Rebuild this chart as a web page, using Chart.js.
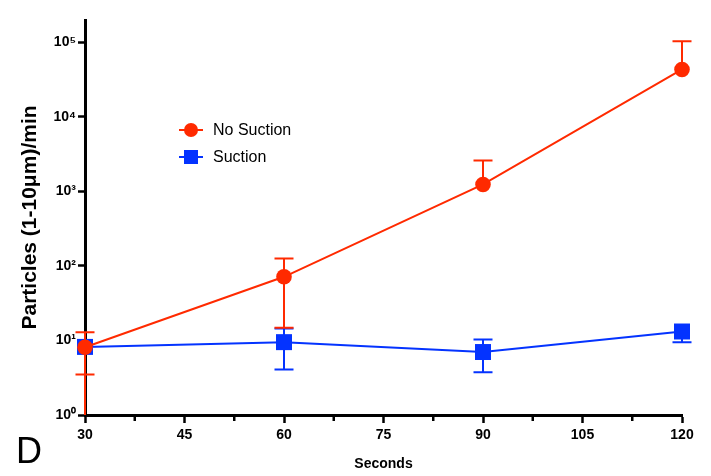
<!DOCTYPE html>
<html>
<head>
<meta charset="utf-8">
<script src="https://cdn.jsdelivr.net/npm/chart.js@4.4.1/dist/chart.umd.min.js"></script>
<style>
html,body{margin:0;padding:0;background:#fff;}
canvas{display:block;}
</style>
</head>
<body>
<canvas id="c" width="711" height="476"></canvas>
<script>
// ---- data ----
const seconds = [30, 60, 90, 120];
const noSuction = [8.1, 71.6, 1242, 43400];
const noSuctionHigh = [12.9, 126, 2607, 104000];
const noSuctionLow = [3.5, 14.8, null, null];
const noSuctionLowOffScale = [true, false, false, false];
const suction = [8.2, 9.5, 7.0, 13.2];
const suctionHigh = [null, 14.5, 10.3, null];
const suctionLow = [null, 4.08, 3.75, 9.5];
const suctionLowOffScale = [false, false, false, false];
const yTickValues = [1, 10, 100, 1000, 10000, 100000];
const yTickLabels = ['10⁰', '10¹', '10²', '10³', '10⁴', '10⁵'];
const xMinorTicks = [37.5, 52.5, 67.5, 82.5, 97.5, 112.5];
const seriesNames = ['No Suction', 'Suction'];
const panelLetter = 'D';

const RED = '#FF2A00';
const BLUE = '#0433FF';

const errorBars = [
  {high: noSuctionHigh, low: noSuctionLow, off: noSuctionLowOffScale},
  {high: suctionHigh, low: suctionLow, off: suctionLowOffScale}
];

const errorBarPlugin = {
  id: 'errorBars',
  beforeDatasetDraw(chart, args) {
    const i = args.index;
    const ds = chart.data.datasets[i];
    const eb = errorBars[i];
    const xs = chart.scales.x, ys = chart.scales.y;
    const ctx = chart.ctx;
    ctx.save();
    ctx.strokeStyle = ds.borderColor;
    ctx.lineWidth = 2;
    const cap = 9.5;
    seconds.forEach((sx, k) => {
      const px = xs.getPixelForValue(sx);
      const py = ys.getPixelForValue(ds.data[k].y);
      if (eb.high[k] != null) {
        const ph = ys.getPixelForValue(eb.high[k]);
        ctx.beginPath(); ctx.moveTo(px, py); ctx.lineTo(px, ph);
        ctx.moveTo(px - cap, ph); ctx.lineTo(px + cap, ph); ctx.stroke();
      }
      if (eb.low[k] != null) {
        const pl = ys.getPixelForValue(eb.low[k]);
        ctx.beginPath(); ctx.moveTo(px, py); ctx.lineTo(px, pl);
        ctx.moveTo(px - cap, pl); ctx.lineTo(px + cap, pl); ctx.stroke();
        if (eb.off[k]) {
          ctx.beginPath(); ctx.moveTo(px, pl); ctx.lineTo(px, chart.chartArea.bottom); ctx.stroke();
        }
      }
    });
    ctx.restore();
  }
};

const extrasPlugin = {
  id: 'extras',
  afterDraw(chart) {
    const ctx = chart.ctx;
    const xs = chart.scales.x;
    ctx.save();
    // minor x ticks
    ctx.strokeStyle = '#000';
    ctx.lineWidth = 2.5;
    xMinorTicks.forEach(v => {
      const px = xs.getPixelForValue(v);
      ctx.beginPath(); ctx.moveTo(px, xs.top); ctx.lineTo(px, xs.top + 6); ctx.stroke();
    });
    // legend
    const rows = [130, 157];
    chart.data.datasets.forEach((ds, i) => {
      const y = rows[i];
      ctx.strokeStyle = ds.borderColor;
      ctx.fillStyle = ds.backgroundColor;
      ctx.lineWidth = 2;
      ctx.beginPath(); ctx.moveTo(179, y); ctx.lineTo(203, y); ctx.stroke();
      if (ds.pointStyle === 'circle') {
        ctx.beginPath(); ctx.arc(191, y, 7, 0, Math.PI * 2); ctx.fill();
      } else {
        ctx.fillRect(184, y - 7, 14, 14);
      }
      ctx.fillStyle = '#000';
      ctx.font = '16px "Liberation Sans", Arial, sans-serif';
      ctx.textBaseline = 'middle';
      ctx.textAlign = 'left';
      ctx.fillText(ds.label, 213, y + 1);
    });
    // panel letter
    ctx.fillStyle = '#000';
    ctx.font = '36px "Liberation Sans", Arial, sans-serif';
    ctx.textBaseline = 'alphabetic';
    ctx.textAlign = 'left';
    ctx.fillText(panelLetter, 16, 463);
    ctx.restore();
  }
};

new Chart(document.getElementById('c'), {
  type: 'line',
  data: {
    datasets: [
      {
        label: seriesNames[0],
        data: seconds.map((s, k) => ({x: s, y: noSuction[k]})),
        borderColor: RED, backgroundColor: RED,
        borderWidth: 2, pointStyle: 'circle', pointRadius: 7.8,
        pointBorderWidth: 0, pointHoverRadius: 7.8, clip: false, tension: 0
      },
      {
        label: seriesNames[1],
        data: seconds.map((s, k) => ({x: s, y: suction[k]})),
        borderColor: BLUE, backgroundColor: BLUE,
        borderWidth: 2, pointStyle: 'rect', pointRadius: 11.3,
        pointBorderWidth: 0, pointHoverRadius: 11.3, clip: false, tension: 0
      }
    ]
  },
  options: {
    responsive: false,
    animation: false,
    events: [],
    layout: {padding: {top: 20, right: 29, bottom: 0, left: 0}},
    plugins: {legend: {display: false}, tooltip: {enabled: false}},
    scales: {
      x: {
        type: 'linear', min: 30, max: 120,
        border: {display: true, color: '#000', width: 3},
        grid: {drawOnChartArea: false, drawTicks: true, tickLength: 8, tickWidth: 2.5, tickColor: '#000'},
        ticks: {stepSize: 15, color: '#000', padding: 4, maxRotation: 0,
          font: {family: '"Liberation Sans", Arial, sans-serif', size: 14, weight: 'bold'}},
        title: {display: true, text: 'Seconds', color: '#000', padding: {top: 4, bottom: 3},
          font: {family: '"Liberation Sans", Arial, sans-serif', size: 14, weight: 'bold'}},
        afterFit(s) { s.height = 61; }
      },
      y: {
        type: 'logarithmic', min: 1, max: 200000,
        border: {display: true, color: '#000', width: 3},
        grid: {drawOnChartArea: false, drawTicks: true, tickLength: 7, tickWidth: 2.5, tickColor: '#000'},
        afterBuildTicks(s) { s.ticks = yTickValues.map(v => ({value: v, major: true})); },
        ticks: {color: '#000', padding: 2,
          callback: (v) => { const i = yTickValues.indexOf(v); return i >= 0 ? yTickLabels[i] : ''; },
          font: {family: '"Liberation Sans", Arial, sans-serif', size: 14, weight: 'bold'}},
        title: {display: true, text: 'Particles (1-10μm)/min', color: '#000', padding: {top: 18, bottom: 0},
          font: {family: '"Liberation Sans", Arial, sans-serif', size: 21, weight: 'bold'}},
        afterFit(s) { s.width = 85; }
      }
    }
  },
  plugins: [errorBarPlugin, extrasPlugin]
});
</script>
</body>
</html>
